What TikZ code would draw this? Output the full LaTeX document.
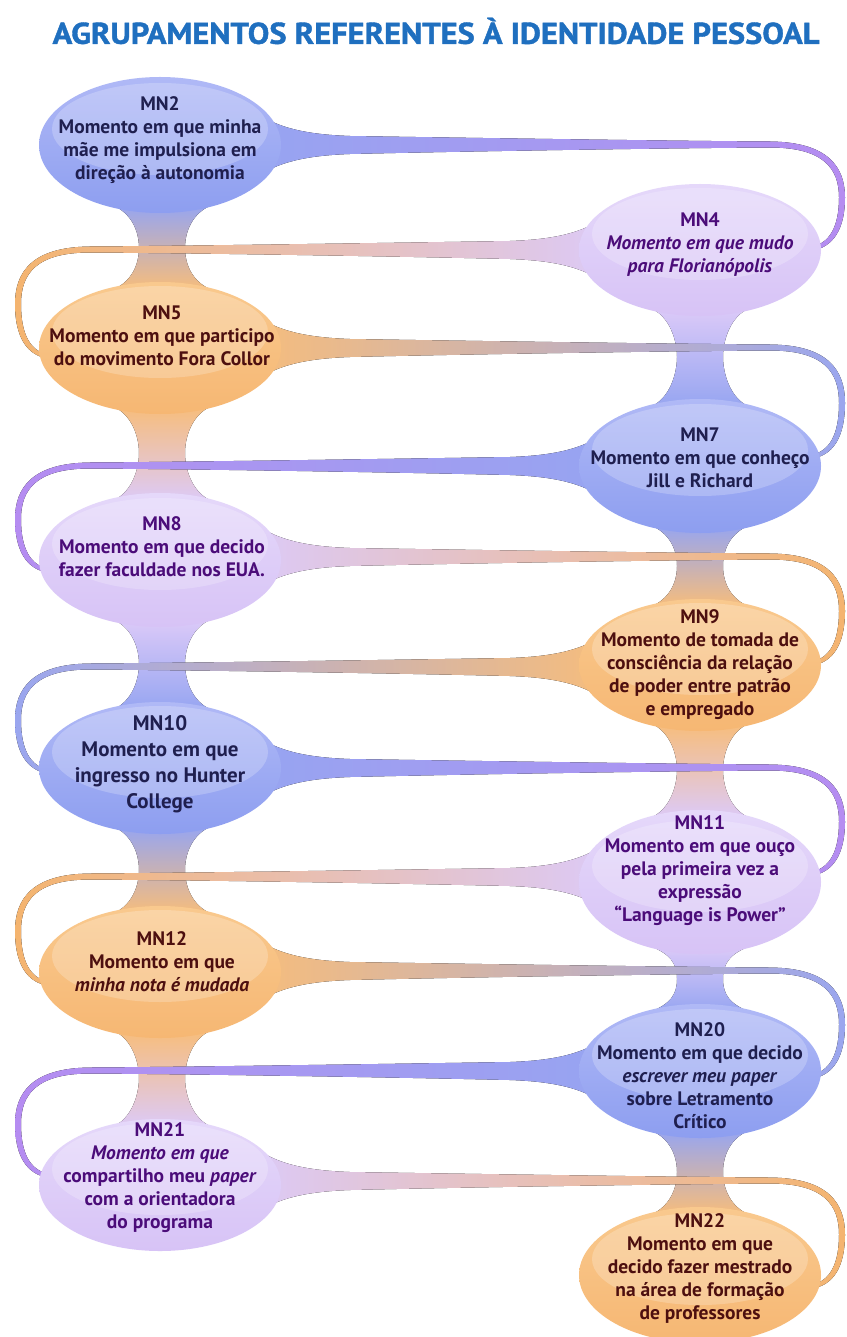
\documentclass[tikz,border=0pt]{standalone}
\usepackage{fontspec}
\setmainfont{PT Sans}
\newfontfamily\titlefont[BoldFeatures={FakeBold=1.3}]{PT Sans}
\usetikzlibrary{shapes.geometric}
\definecolor{bluetop}{HTML}{B0B9F6}
\definecolor{bluebot}{HTML}{8D9EF0}
\definecolor{bluemid}{HTML}{96A5F1}
\definecolor{orgtop}{HTML}{F9C98E}
\definecolor{orgbot}{HTML}{F6B773}
\definecolor{orgmid}{HTML}{F7BD7B}
\definecolor{purtop}{HTML}{E5D8FA}
\definecolor{purbot}{HTML}{D7C3F6}
\definecolor{purmid}{HTML}{DCCAF8}
\definecolor{vivpur}{HTML}{B58CF1}
\definecolor{bluetgt}{HTML}{9AA6EF}
\definecolor{orgtgt}{HTML}{F4B46F}
\definecolor{txtblue}{HTML}{1F1F4F}
\definecolor{txtorg}{HTML}{4D0F0F}
\definecolor{txtpur}{HTML}{4B0C79}
\definecolor{titleblue}{HTML}{1F6FBF}
% right-going band: source left bubble at y #1, target right bubble at y #2
\newcommand{\bandR}[4]{%
\fill[left color=#3, right color=#4]
 (245,{#1-42}) .. controls (266,{#1-22}) and (292,{#1-11}) .. (350,{#1-9})
 .. controls (480,{#1-7}) and (680,{#1-4}) .. (770,{#1-3.5})
 .. controls (828,{#1-3}) and (845,{#1+22}) .. (845,{(#1+#2)/2})
 .. controls (845,{#2-22}) and (834,{#2-2}) .. (810,{#2+1})
 -- (810,{#2-3})
 .. controls (830,{#2-6}) and (839,{#2-24}) .. (839,{(#1+#2)/2})
 .. controls (839,{#1+24}) and (824,{#1+2.5}) .. (770,{#1+2.5})
 .. controls (680,{#1+3}) and (480,{#1+6}) .. (350,{#1+9})
 .. controls (292,{#1+11}) and (266,{#1+22}) .. (245,{#1+42}) -- cycle;}
% left-going band: source right bubble at y #1, target left bubble at y #2
\newcommand{\bandL}[4]{%
\fill[left color=#4, right color=#3]
 (615,{#1-42}) .. controls (594,{#1-22}) and (568,{#1-11}) .. (510,{#1-9})
 .. controls (380,{#1-7}) and (180,{#1-4}) .. (90,{#1-3.5})
 .. controls (32,{#1-3}) and (15,{#1+22}) .. (15,{(#1+#2)/2})
 .. controls (15,{#2-22}) and (26,{#2-2}) .. (50,{#2+1})
 -- (50,{#2-3})
 .. controls (30,{#2-6}) and (21,{#2-24}) .. (21,{(#1+#2)/2})
 .. controls (21,{#1+24}) and (36,{#1+2.5}) .. (90,{#1+2.5})
 .. controls (180,{#1+3}) and (380,{#1+6}) .. (510,{#1+9})
 .. controls (568,{#1+11}) and (594,{#1+22}) .. (615,{#1+42}) -- cycle;}
% neck: centre x #1, top #2, narrowest #3, bottom #4
\newcommand{\neck}[6]{%
\fill[top color=#5, bottom color=#6]
 ({#1-50},#2) .. controls ({#1-30},{#2+8}) and ({#1-23},{#3-16}) .. ({#1-23},#3)
 .. controls ({#1-23},{#3+16}) and ({#1-30},{#4-8}) .. ({#1-50},#4)
 -- ({#1+50},#4)
 .. controls ({#1+30},{#4-8}) and ({#1+23},{#3+16}) .. ({#1+23},#3)
 .. controls ({#1+23},{#3-16}) and ({#1+30},{#2+8}) .. ({#1+50},#2) -- cycle;}
\tikzset{
 bubble/.style={ellipse, minimum width=242pt, inner sep=0pt, draw=none,
   path picture={\fill[white,opacity=0.22] ([yshift=16pt]path picture bounding box.center) ellipse [x radius=108pt, y radius=46pt];}},
 bblue/.style={bubble, top color=bluetop, bottom color=bluebot},
 borg/.style={bubble, top color=orgtop, bottom color=orgbot},
 bpur/.style={bubble, top color=purtop, bottom color=purbot},
 txt/.style={align=center, inner sep=0pt, font=\bfseries\fontsize{19.5}{23}\selectfont},
 tblue/.style={txt, text=txtblue},
 torg/.style={txt, text=txtorg},
 tpur/.style={txt, text=txtpur},
 titlestyle/.style={inner sep=0pt, text=titleblue, xscale=1.08, font=\titlefont\bfseries\fontsize{30}{32}\selectfont}
}
\begin{document}
\begin{tikzpicture}[x=1pt,y=-1pt]
\fill[white] (0,0) rectangle (846,1337);
\useasboundingbox (0,0) rectangle (846,1337);
\node[titlestyle] (title) at (436,31) {AGRUPAMENTOS REFERENTES À IDENTIDADE PESSOAL};
% necks
\neck{162}{205}{248}{290}{bluemid}{orgmid}
\neck{162}{406}{453}{501}{orgmid}{purmid}
\neck{162}{619}{664}{710}{purmid}{bluemid}
\neck{162}{826}{870}{914}{bluemid}{orgmid}
\neck{162}{1030}{1078}{1127}{orgmid}{purmid}
\neck{700}{308}{357}{407}{purmid}{bluemid}
\neck{700}{525}{566}{607}{bluemid}{orgmid}
\neck{700}{723}{770}{818}{orgmid}{purmid}
\neck{700}{946}{979}{1012}{purmid}{bluemid}
\neck{700}{1130}{1172}{1215}{bluemid}{orgmid}
% bands
\bandR{145}{250}{bluemid}{vivpur}
\bandL{250}{358}{purmid}{orgtgt}
\bandR{348}{458}{orgmid}{bluetgt}
\bandL{466}{572}{bluemid}{vivpur}
\bandR{557}{665}{purmid}{orgtgt}
\bandL{667}{773}{orgmid}{bluetgt}
\bandR{768}{875}{bluemid}{vivpur}
\bandL{877}{985}{purmid}{orgtgt}
\bandR{971}{1078}{orgmid}{bluetgt}
\bandL{1071}{1177}{bluemid}{vivpur}
\bandR{1181}{1288}{purmid}{orgtgt}
% bubbles
\node[bblue, minimum height=136pt] (b2) at (160,145) {};
\node[bpur, minimum height=132pt] (b4) at (700,250) {};
\node[borg, minimum height=132pt] (b5) at (160,348) {};
\node[bblue, minimum height=134pt] (b7) at (700,466) {};
\node[bpur, minimum height=134pt] (b8) at (160,560) {};
\node[borg, minimum height=132pt] (b9) at (700,665) {};
\node[bblue, minimum height=132pt] (b10) at (160,768) {};
\node[bpur, minimum height=144pt] (b11) at (700,882) {};
\node[borg, minimum height=132pt] (b12) at (160,972) {};
\node[bblue, minimum height=134pt] (b20) at (700,1071) {};
\node[bpur, minimum height=132pt] (b21) at (160,1185) {};
\node[borg, minimum height=136pt] (b22) at (700,1275) {};
% texts
\node[tblue] (t2) at (160,140) {MN2\\Momento em que minha\\mãe me impulsiona em\\direção à autonomia};
\node[tpur] (t4) at (700,245) {MN4\\\textit{Momento em que mudo}\\\textit{para Florianópolis}};
\node[torg] (t5) at (162,336) {MN5\\Momento em que participo\\do movimento Fora Collor};
\node[tblue] (t7) at (700,458) {MN7\\Momento em que conheço\\Jill e Richard};
\node[tpur] (t8) at (162,547) {MN8\\Momento em que decido\\fazer faculdade nos EUA.};
\node[torg] (t9) at (700,665) {MN9\\Momento de tomada de\\consciência da relação\\de poder entre patrão\\e empregado};
\node[tblue, font=\bfseries\fontsize{21}{26}\selectfont] (t10) at (160,764) {MN10\\Momento em que\\ingresso no Hunter\\College};
\node[tpur] (t11) at (700,871) {MN11\\Momento em que ouço\\pela primeira vez a\\expressão\\“Language is Power”};
\node[torg] (t12) at (162,962) {MN12\\Momento em que\\\textit{minha nota é mudada}};
\node[tblue] (t20) at (700,1076) {MN20\\Momento em que decido\\\textit{escrever meu paper}\\sobre Letramento\\Crítico};
\node[tpur] (t21) at (160,1178) {MN21\\\textit{Momento em que}\\compartilho meu \textit{paper}\\com a orientadora\\do programa};
\node[torg] (t22) at (700,1268) {MN22\\Momento em que\\decido fazer mestrado\\na área de formação\\de professores};
\end{tikzpicture}
\end{document}
